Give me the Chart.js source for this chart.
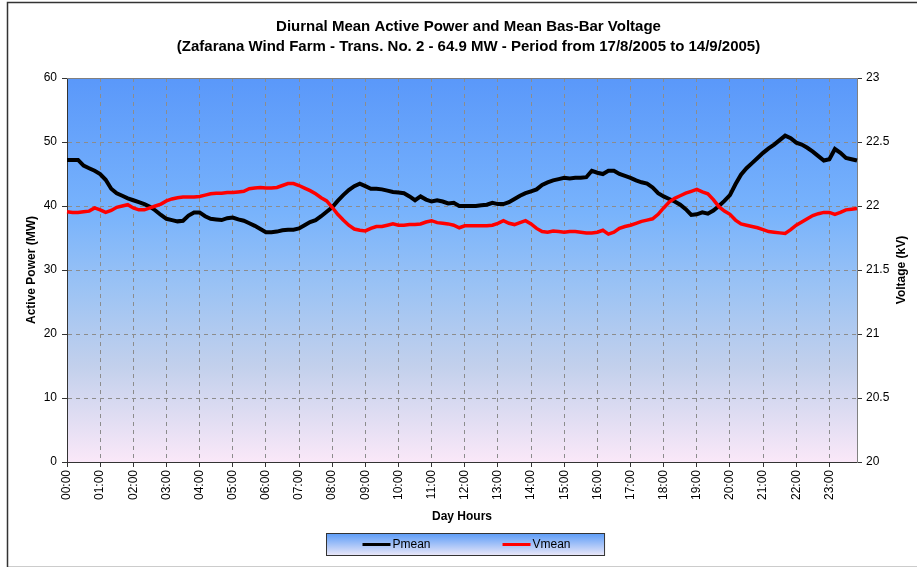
<!DOCTYPE html>
<html lang="en">
<head>
    <meta charset="UTF-8">
    <title>Diurnal Mean Active Power and Mean Bas-Bar Voltage</title>
    <script src="https://cdn.jsdelivr.net/npm/chart.js"></script>
    <style>
        html, body { margin: 0; padding: 0; background: #fff; }
        #wrap { width: 917px; height: 567px; }
    </style>
</head>
<body>
    <div id="wrap"><canvas id="powerChart"></canvas></div>

    <script>
        // hourly tick labels, data every 10 minutes
        const hourLabels = ['00:00', '01:00', '02:00', '03:00', '04:00', '05:00', '06:00', '07:00',
            '08:00', '09:00', '10:00', '11:00', '12:00', '13:00', '14:00', '15:00',
            '16:00', '17:00', '18:00', '19:00', '20:00', '21:00', '22:00', '23:00'];
        const minuteSteps = ['00', '10', '20', '30', '40', '50'];

        // Pmean (MW)
        const pmean = [
            47.2, 47.2, 47.2, 46.3, 45.9, 45.5, 45.0, 44.1, 42.7, 42.0, 41.6, 41.2,
            40.9, 40.6, 40.3, 39.9, 39.3, 38.6, 38.0, 37.8, 37.6, 37.7, 38.5, 39.0,
            39.0, 38.4, 38.0, 37.9, 37.8, 38.1, 38.2, 37.9, 37.7, 37.3, 36.9, 36.4,
            35.9, 35.9, 36.0, 36.2, 36.3, 36.3, 36.5, 37.0, 37.5, 37.8, 38.4, 39.1,
            39.8, 40.8, 41.7, 42.5, 43.1, 43.5, 43.1, 42.7, 42.7, 42.6, 42.4, 42.2,
            42.1, 42.0, 41.5, 40.9, 41.5, 41.0, 40.7, 40.9, 40.7, 40.4, 40.5, 40.0,
            40.0, 40.0, 40.0, 40.1, 40.2, 40.5, 40.3, 40.3, 40.6, 41.1, 41.6, 42.0,
            42.3, 42.6, 43.3, 43.7, 44.0, 44.2, 44.4, 44.3, 44.4, 44.4, 44.5, 45.5,
            45.2, 45.0, 45.5, 45.5, 45.0, 44.7, 44.4, 44.0, 43.7, 43.5, 42.9, 42.0,
            41.5, 41.1, 40.7, 40.2, 39.5, 38.6, 38.7, 39.0, 38.8, 39.3, 40.0, 40.8,
            41.7, 43.4, 44.9, 45.9, 46.7, 47.5, 48.3, 49.0, 49.6, 50.3, 51.0, 50.6,
            49.9, 49.6, 49.1, 48.5, 47.8, 47.1, 47.3, 48.9, 48.3, 47.5, 47.3, 47.1
        ];

        // Vmean (kV)
        const vmean = [
            21.955, 21.95, 21.95, 21.955, 21.96, 21.985, 21.97, 21.95, 21.965, 21.99, 22.0, 22.01,
            21.985, 21.97, 21.97, 21.985, 22.0, 22.015, 22.04, 22.055, 22.065, 22.07, 22.07, 22.07,
            22.075, 22.085, 22.095, 22.1, 22.1, 22.105, 22.105, 22.11, 22.115, 22.135, 22.14, 22.145,
            22.14, 22.14, 22.145, 22.16, 22.175, 22.175, 22.16, 22.14, 22.12, 22.095, 22.065, 22.04,
            21.99, 21.935, 21.89, 21.85, 21.82, 21.81, 21.805, 21.825, 21.84, 21.84, 21.85, 21.86,
            21.85, 21.85, 21.855, 21.855, 21.86, 21.875, 21.885, 21.87, 21.865, 21.86, 21.85, 21.83,
            21.845, 21.845, 21.845, 21.845, 21.845, 21.85, 21.865, 21.885, 21.865, 21.855, 21.87, 21.885,
            21.86, 21.825, 21.8, 21.795, 21.805, 21.8, 21.795, 21.8, 21.8, 21.795, 21.79, 21.79,
            21.795, 21.81, 21.78, 21.795, 21.825, 21.84, 21.85, 21.865, 21.88, 21.89, 21.9, 21.935,
            21.985, 22.03, 22.06, 22.08, 22.1, 22.115, 22.13, 22.11, 22.095, 22.05, 21.995, 21.96,
            21.935, 21.89, 21.86, 21.85, 21.84, 21.83, 21.815, 21.8, 21.795, 21.79, 21.785, 21.815,
            21.85, 21.875, 21.9, 21.925, 21.94, 21.95, 21.95, 21.935, 21.95, 21.97, 21.975, 21.98
        ];

        const timeLabels = [];
        hourLabels.forEach((h) => {
            minuteSteps.forEach((m) => timeLabels.push(h.slice(0, 3) + m));
        });

        const FONT = "'Liberation Sans', Arial, sans-serif";
        Chart.defaults.font.family = FONT;
        Chart.defaults.color = '#000';

        const isHour = (ctx) => ctx.index % 6 === 0;

        // background, outer frame, plot gradient
        const backdrop = {
            id: 'backdrop',
            beforeDraw(chart) {
                const { ctx, chartArea: a } = chart;
                ctx.save();
                ctx.fillStyle = '#fff';
                ctx.fillRect(0, 0, chart.width, chart.height);
                ctx.strokeStyle = '#333';
                ctx.lineWidth = 1.5;
                ctx.strokeRect(7.5, 2.5, chart.width + 10, chart.height - 2);
                const g = ctx.createLinearGradient(0, a.top, 0, a.bottom);
                g.addColorStop(0, '#5a98fa');
                g.addColorStop(0.35, '#78b3fc');
                g.addColorStop(0.55, '#9cc3f4');
                g.addColorStop(0.75, '#c2d0ec');
                g.addColorStop(1, '#fae8f8');
                ctx.fillStyle = g;
                ctx.fillRect(a.left, a.top, a.right - a.left, a.bottom - a.top);
                ctx.restore();
            },
            beforeDatasetsDraw(chart) {
                const { ctx, chartArea: a } = chart;
                ctx.save();
                ctx.strokeStyle = '#808080';
                ctx.lineWidth = 1;
                ctx.beginPath();
                ctx.moveTo(a.left, a.top + 0.5);
                ctx.lineTo(a.right + 0.5, a.top + 0.5);
                ctx.lineTo(a.right + 0.5, a.bottom);
                ctx.stroke();
                ctx.restore();
            },
            afterDraw(chart) {
                const { ctx, chartArea: a } = chart;
                const y1 = chart.scales.y1;
                ctx.save();
                // right axis title, reading bottom to top
                ctx.font = 'bold 12px ' + FONT;
                ctx.fillStyle = '#000';
                ctx.textAlign = 'center';
                ctx.textBaseline = 'middle';
                ctx.translate(y1.right - 15, (a.top + a.bottom) / 2);
                ctx.rotate(-Math.PI / 2);
                ctx.fillText('Voltage (kV)', 0, 0);
                ctx.restore();

                // legend box
                const sets = chart.data.datasets;
                ctx.save();
                ctx.font = '12px ' + FONT;
                const lineLen = 28, gap = 2, itemGap = 72, padL = 36, padR = 34;
                let w = padL + padR;
                sets.forEach((d, i) => {
                    w += lineLen + gap + ctx.measureText(d.label).width;
                    if (i > 0) w += itemGap;
                });
                const bx = Math.round(chart.width / 2 + 7 - w / 2) + 0.5;
                const by = Math.round(chart.scales.x.bottom + 7) + 0.5;
                const bh = 22;
                const lg = ctx.createLinearGradient(0, by, 0, by + bh);
                lg.addColorStop(0, '#5c9cf8');
                lg.addColorStop(1, '#ebe8f8');
                ctx.fillStyle = lg;
                ctx.fillRect(bx, by, w, bh);
                ctx.strokeStyle = '#333';
                ctx.lineWidth = 1;
                ctx.strokeRect(bx, by, w, bh);
                let cx = bx + padL;
                const cy = by + bh / 2;
                ctx.textBaseline = 'middle';
                ctx.textAlign = 'left';
                sets.forEach((d) => {
                    ctx.strokeStyle = d.borderColor;
                    ctx.lineWidth = 3;
                    ctx.beginPath();
                    ctx.moveTo(cx, cy);
                    ctx.lineTo(cx + lineLen, cy);
                    ctx.stroke();
                    cx += lineLen + gap;
                    ctx.fillStyle = '#000';
                    ctx.fillText(d.label, cx, cy + 0.5);
                    cx += ctx.measureText(d.label).width + itemGap;
                });
                ctx.restore();
            }
        };

        const ctx = document.getElementById('powerChart').getContext('2d');
        const powerChart = new Chart(ctx, {
            type: 'line',
            data: {
                labels: timeLabels,
                datasets: [
                    {
                        label: 'Pmean',
                        data: pmean,
                        yAxisID: 'y',
                        borderColor: '#000000',
                        borderWidth: 4,
                        pointRadius: 0,
                        tension: 0,
                        order: 1,
                    },
                    {
                        label: 'Vmean',
                        data: vmean,
                        yAxisID: 'y1',
                        borderColor: '#ff0000',
                        borderWidth: 3.5,
                        pointRadius: 0,
                        tension: 0,
                        order: 0,
                    },
                ],
            },
            options: {
                responsive: true,
                maintainAspectRatio: false,
                animation: false,
                layout: { padding: { left: 20, right: 0, top: 0, bottom: 41 } },
                plugins: {
                    legend: { display: false },
                    tooltip: { enabled: false },
                    title: {
                        display: true,
                        text: ['Diurnal Mean Active Power and Mean Bas-Bar Voltage',
                            '(Zafarana Wind Farm - Trans. No. 2 - 64.9 MW - Period from 17/8/2005 to 14/9/2005)'],
                        font: { size: 15, weight: 'bold', lineHeight: '20px' },
                        color: '#000',
                        padding: { top: 17, bottom: 21 },
                    },
                },
                scales: {
                    x: {
                        type: 'category',
                        offset: false,
                        grid: {
                            color: (c) => (isHour(c) ? '#8c8c8c' : 'rgba(0,0,0,0)'),
                            tickColor: (c) => (isHour(c) ? '#333' : 'rgba(0,0,0,0)'),
                            tickLength: 5,
                            lineWidth: 1,
                        },
                        border: { color: '#333', width: 1, dash: [4, 4] },
                        ticks: {
                            autoSkip: false,
                            minRotation: 90,
                            maxRotation: 90,
                            padding: 3,
                            font: { size: 12 },
                            callback: function (v, i) { return i % 6 === 0 ? this.getLabelForValue(v) : ''; },
                        },
                        title: {
                            display: true,
                            text: 'Day Hours',
                            font: { size: 12, weight: 'bold' },
                            padding: { top: 4, bottom: 2 },
                        },
                        afterFit: (s) => { s.height = 64; },
                    },
                    y: {
                        position: 'left',
                        min: 0,
                        max: 60,
                        ticks: { stepSize: 10, font: { size: 12 }, padding: 5 },
                        grid: { color: '#8c8c8c', tickColor: '#333', tickLength: 5 },
                        border: { color: '#333', width: 1, dash: [4, 4] },
                        title: {
                            display: true,
                            text: 'Active Power (MW)',
                            font: { size: 12, weight: 'bold' },
                            padding: { top: 4, bottom: 4 },
                        },
                        afterFit: (s) => { s.width = 47; },
                    },
                    y1: {
                        position: 'right',
                        min: 20,
                        max: 23,
                        ticks: {
                            stepSize: 0.5,
                            font: { size: 12 },
                            padding: 4,
                            callback: (v) => String(v),
                        },
                        grid: { drawOnChartArea: false, tickColor: '#333', tickLength: 5 },
                        border: { color: '#808080', width: 1 },
                        afterFit: (s) => { s.width = 60; },
                    },
                },
            },
            plugins: [backdrop],
        });
    </script>
</body>
</html>
